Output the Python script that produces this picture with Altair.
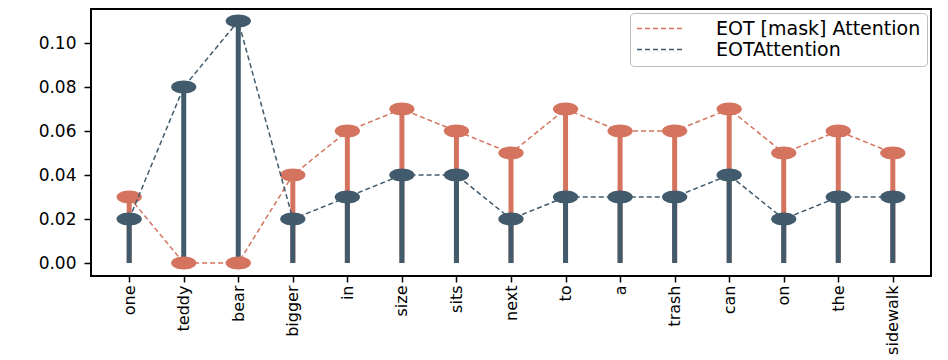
import altair as alt
import pandas as pd

words = ["one", "teddy", "bear", "bigger", "in", "size", "sits", "next", "to",
         "a", "trash", "can", "on", "the", "sidewalk"]
mask_attn = [0.03, 0.0, 0.0, 0.04, 0.06, 0.07, 0.06, 0.05, 0.07, 0.06, 0.06, 0.07, 0.05, 0.06, 0.05]
eot_attn = [0.02, 0.08, 0.11, 0.02, 0.03, 0.04, 0.04, 0.02, 0.03, 0.03, 0.03, 0.04, 0.02, 0.03, 0.03]
series_names = ["EOT [mask] Attention", "EOTAttention"]
series_colors = ["#D4745E", "#425B6C"]
y_ticks = [0.0, 0.02, 0.04, 0.06, 0.08, 0.10]

rows = []
for i, w in enumerate(words):
    rows.append({"word": w, "idx": i, "series": series_names[0], "value": mask_attn[i]})
    rows.append({"word": w, "idx": i, "series": series_names[1], "value": eot_attn[i]})
df = pd.DataFrame(rows)
df["zero"] = 0.0

x_enc = alt.X("word:N", sort=words,
              scale=alt.Scale(type="point", padding=0.7),
              axis=alt.Axis(title=None, labelAngle=270, labelAlign="right", labelBaseline="middle",
                            labelFontSize=16, labelFont="DejaVu Sans", labelColor="black",
                            tickColor="black", tickSize=6, tickWidth=1.5, labelPadding=3,
                            domain=False, grid=False))
y_scale = alt.Scale(domain=[-0.0059, 0.1155], nice=False, zero=False)
y_enc = alt.Y("value:Q", scale=y_scale,
              axis=alt.Axis(title=None, values=y_ticks, format=".2f", labelFontSize=17,
                            labelFont="DejaVu Sans", labelColor="black", tickColor="black",
                            tickSize=7, tickWidth=1.5, labelPadding=8, domain=False, grid=False))

base = alt.Chart(df)

def stems(name, color):
    return base.transform_filter(alt.datum.series == name).mark_rule(
        strokeWidth=5, color=color, strokeCap="butt"
    ).encode(x=x_enc, y=y_enc, y2="zero:Q")

def dots(name, color):
    return base.transform_filter(alt.datum.series == name).mark_point(
        shape="M -1.95 0 A 1.95 1 0 1 1 1.95 0 A 1.95 1 0 1 1 -1.95 0 Z",
        size=169, filled=True, opacity=1, color=color
    ).encode(x=x_enc, y=y_enc)

def dline(name):
    return base.transform_filter(alt.datum.series == name).mark_line(
        strokeWidth=1.5, strokeDash=[5, 3]
    ).encode(
        x=x_enc, y=y_enc,
        color=alt.Color("series:N",
                        scale=alt.Scale(domain=series_names, range=series_colors),
                        legend=alt.Legend(title=None, orient="top-right", offset=4,
                                          symbolType="stroke", symbolSize=2300,
                                          symbolStrokeWidth=1.5, symbolDash=[5, 3],
                                          labelFontSize=19, labelFont="DejaVu Sans",
                                          labelColor="black", clipHeight=19,
                                          labelLimit=500,
                                          rowPadding=1, symbolOffset=0,
                                          labelOffset=30, padding=6,
                                          fillColor="white", strokeColor="#bbbbbb",
                                          cornerRadius=4)),
        order="idx:Q")

chart = alt.layer(
    stems(series_names[0], series_colors[0]),
    stems(series_names[1], series_colors[1]),
    dline(series_names[0]),
    dots(series_names[0], series_colors[0]),
    dline(series_names[1]),
    dots(series_names[1], series_colors[1]),
).properties(
    width=840, height=267,
    background="white",
    autosize=alt.AutoSizeParams(type="none"),
    padding={"left": 83, "top": 1, "right": 9, "bottom": 80},
).configure_view(stroke="black", strokeWidth=2, strokeOpacity=1)

chart.save("out.html", embed_options={"renderer": "svg", "actions": False})
